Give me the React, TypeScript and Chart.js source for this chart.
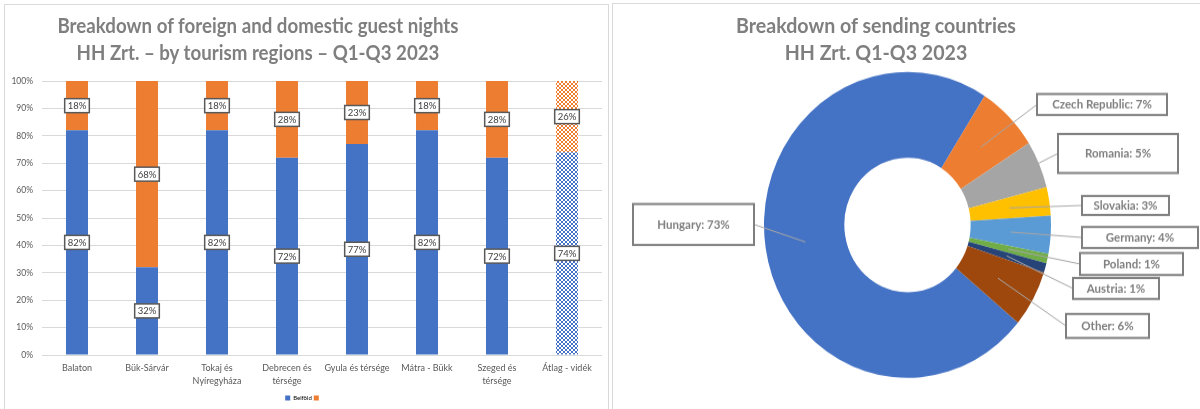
import React, { useEffect, useRef } from 'react';
import { Chart, registerables } from 'chart.js';

Chart.register(...registerables);

// ---------- data: left chart ----------
const regionLabels: (string | string[])[] = [
  'Balaton',
  'Bük-Sárvár',
  ['Tokaj és', 'Nyíregyháza'],
  ['Debrecen és', 'térsége'],
  'Gyula és térsége',
  'Mátra - Bükk',
  ['Szeged és', 'térsége'],
  'Átlag - vidék',
];
const domesticShare = [82, 32, 82, 72, 77, 82, 72, 74];
const foreignShare = [18, 68, 18, 28, 23, 18, 28, 26];
const domesticName = 'Belföld';
const foreignName = '';
const leftTitle = ['Breakdown of foreign and domestic guest nights', 'HH Zrt. – by tourism regions – Q1-Q3 2023'];

// ---------- data: right chart ----------
const countryNames = ['Hungary', 'Czech Republic', 'Romania', 'Slovakia', 'Germany', 'Poland', 'Austria', 'Other'];
const countryShares = [73, 7, 5, 3, 4, 1, 1, 6];
const rightTitle = ['Breakdown of sending countries', 'HH Zrt. Q1-Q3 2023'];

// ---------- styles / layout ----------
const FONT = 'Lato, "Open Sans", sans-serif';
const BLUE = '#4472C4';
const ORANGE = '#ED7D31';
const countryColors = ['#4472C4', '#ED7D31', '#A5A5A5', '#FFC000', '#5B9BD5', '#70AD47', '#264478', '#9E480E'];
const STRETCH = 1.066; // vertical stretch of the right panel picture
const RIGHT_X = 613;
const RIGHT_Y = 4;
// label boxes of the doughnut, in page pixels [x1, y1, x2, y2]
const donutBoxes = [
  [633, 204, 754, 245],
  [1037, 94, 1167, 115],
  [1058, 134, 1178, 173],
  [1082, 196, 1169, 215],
  [1082, 227, 1198, 248],
  [1080, 253, 1183, 275],
  [1073, 278, 1159, 299],
  [1066, 314, 1149, 338],
];

function checker(color: string): CanvasPattern | string {
  const c = document.createElement('canvas');
  c.width = 4;
  c.height = 4;
  const g = c.getContext('2d');
  if (!g) return color;
  g.fillStyle = '#ffffff';
  g.fillRect(0, 0, 4, 4);
  g.fillStyle = color;
  g.fillRect(0, 0, 2, 2);
  g.fillRect(2, 2, 2, 2);
  return g.createPattern(c, 'repeat') || color;
}

const barLabelPlugin = {
  id: 'barLabels',
  afterDatasetsDraw(chart: any) {
    const ctx = chart.ctx;
    ctx.save();
    ctx.font = `9.5px ${FONT}`;
    ctx.textAlign = 'center';
    ctx.textBaseline = 'middle';
    chart.data.datasets.forEach((ds: any, di: number) => {
      const meta = chart.getDatasetMeta(di);
      meta.data.forEach((el: any, i: number) => {
        const v = ds.data[i];
        const p = el.getProps(['x', 'y', 'base'], true);
        const cy = (p.y + p.base) / 2;
        const text = `${v}%`;
        const w = ctx.measureText(text).width + 6;
        const h = 14;
        ctx.fillStyle = '#ffffff';
        ctx.fillRect(p.x - w / 2, cy - h / 2, w, h);
        ctx.strokeStyle = '#595959';
        ctx.lineWidth = 1.5;
        ctx.strokeRect(p.x - w / 2, cy - h / 2, w, h);
        ctx.fillStyle = '#404040';
        ctx.fillText(text, p.x, cy + 0.5);
      });
    });
    ctx.restore();
  },
};

const donutLabelPlugin = {
  id: 'donutLabels',
  afterDatasetsDraw(chart: any) {
    const ctx = chart.ctx;
    const meta = chart.getDatasetMeta(0);
    ctx.save();
    meta.data.forEach((arc: any, i: number) => {
      const b = donutBoxes[i];
      const x1 = b[0] - RIGHT_X;
      const x2 = b[2] - RIGHT_X;
      const y1 = (b[1] - RIGHT_Y) / STRETCH;
      const y2 = (b[3] - RIGHT_Y) / STRETCH;
      const ym = (y1 + y2) / 2;
      const c = arc.getCenterPoint();
      const ex = c.x < x1 ? x1 : x2;
      ctx.strokeStyle = '#a6a6a6';
      ctx.lineWidth = 1;
      ctx.beginPath();
      ctx.moveTo(c.x, c.y);
      ctx.lineTo(ex, ym);
      ctx.stroke();
      ctx.fillStyle = '#ffffff';
      ctx.fillRect(x1, y1, x2 - x1, y2 - y1);
      ctx.strokeStyle = '#7f7f7f';
      ctx.lineWidth = 2;
      ctx.strokeRect(x1, y1, x2 - x1, y2 - y1);
      ctx.fillStyle = '#7f7f7f';
      ctx.font = `bold 11.5px ${FONT}`;
      ctx.textAlign = 'center';
      ctx.textBaseline = 'middle';
      ctx.fillText(`${chart.data.labels[i]}: ${countryShares[i]}%`, (x1 + x2) / 2, ym + 0.5);
    });
    ctx.restore();
  },
};

export default function App() {
  const barRef = useRef<HTMLCanvasElement>(null);
  const donutRef = useRef<HTMLCanvasElement>(null);

  useEffect(() => {
    if (!barRef.current || !donutRef.current) return;
    const last = regionLabels.length - 1;
    const blueFills = domesticShare.map((_, i) => (i === last ? checker(BLUE) : BLUE));
    const orangeFills = foreignShare.map((_, i) => (i === last ? checker(ORANGE) : ORANGE));

    const bar = new Chart(barRef.current, {
      type: 'bar',
      data: {
        labels: regionLabels,
        datasets: [
          { label: domesticName, data: domesticShare, backgroundColor: blueFills as any, borderWidth: 0 },
          { label: foreignName, data: foreignShare, backgroundColor: orangeFills as any, borderWidth: 0 },
        ],
      },
      options: {
        animation: false,
        responsive: false,
        devicePixelRatio: 1,
        layout: { padding: { top: 76, right: 6, left: 0, bottom: 0 } },
        datasets: { bar: { categoryPercentage: 1, barPercentage: 0.314 } },
        plugins: {
          tooltip: { enabled: false },
          legend: {
            position: 'bottom',
            labels: {
              boxWidth: 5,
              boxHeight: 5,
              padding: 2,
              color: '#8c8c8c',
              font: { size: 6, family: FONT },
              generateLabels: (ch: any) =>
                ch.data.datasets.map((ds: any, i: number) => ({
                  text: ds.label,
                  fillStyle: i === 0 ? BLUE : ORANGE,
                  strokeStyle: i === 0 ? BLUE : ORANGE,
                  lineWidth: 0,
                  datasetIndex: i,
                  hidden: false,
                })),
            },
          },
        },
        scales: {
          x: {
            stacked: true,
            grid: { display: false, drawTicks: false },
            border: { display: false },
            ticks: {
              autoSkip: false,
              maxRotation: 0,
              padding: 7,
              color: '#595959',
              font: { size: 9, family: FONT, lineHeight: 1.4 },
            },
            afterFit: (s: any) => {
              s.height = 38;
            },
          },
          y: {
            stacked: true,
            min: 0,
            max: 100,
            ticks: {
              stepSize: 10,
              padding: 9,
              color: '#595959',
              font: { size: 8.5, family: FONT },
              callback: (v: any) => `${v}%`,
            },
            grid: { color: '#d9d9d9', drawTicks: false },
            border: { display: false },
            afterFit: (s: any) => {
              s.width = 37;
            },
          },
        },
      },
      plugins: [barLabelPlugin],
    } as any);

    const donut = new Chart(donutRef.current, {
      type: 'doughnut',
      data: {
        labels: countryNames,
        datasets: [{ data: countryShares, backgroundColor: countryColors, borderWidth: 0 }],
      },
      options: {
        animation: false,
        responsive: false,
        devicePixelRatio: 1,
        rotation: 129.7,
        cutout: '44%',
        layout: { padding: { left: 151, right: 149, top: 63.8, bottom: 29.2 } },
        plugins: { legend: { display: false }, tooltip: { enabled: false } },
      },
      plugins: [donutLabelPlugin],
    } as any);

    return () => {
      bar.destroy();
      donut.destroy();
    };
  }, []);

  const titleStyle: React.CSSProperties = {
    position: 'absolute',
    top: 12,
    fontFamily: FONT,
    fontWeight: 700,
    fontSize: 20,
    lineHeight: '27px',
    color: '#7f7f7f',
    textAlign: 'center',
    whiteSpace: 'nowrap',
    transformOrigin: 'center top',
  };

  return (
    <div style={{ position: 'fixed', left: 0, top: 0, width: 1200, height: 409, overflow: 'hidden', background: '#ffffff' }}>
      <div style={{ position: 'absolute', left: 4, top: 4, width: 603, height: 420, border: '1px solid #d9d9d9' }}>
        <canvas ref={barRef} width={603} height={406} style={{ width: 603, height: 406 }} />
      </div>
      <div style={{ position: 'absolute', left: 612, top: 3, width: 600, height: 420, border: '1px solid #d9d9d9' }}>
        <canvas ref={donutRef} width={587} height={380} style={{ width: 587, height: 405 }} />
      </div>
      <div style={{ ...titleStyle, left: 8, width: 500, transform: 'scaleX(0.935)' }}>
        {leftTitle.map((t) => (
          <div key={t}>{t}</div>
        ))}
      </div>
      <div style={{ ...titleStyle, left: 726, width: 300, transform: 'scaleX(0.98)' }}>
        {rightTitle.map((t) => (
          <div key={t}>{t}</div>
        ))}
      </div>
    </div>
  );
}
